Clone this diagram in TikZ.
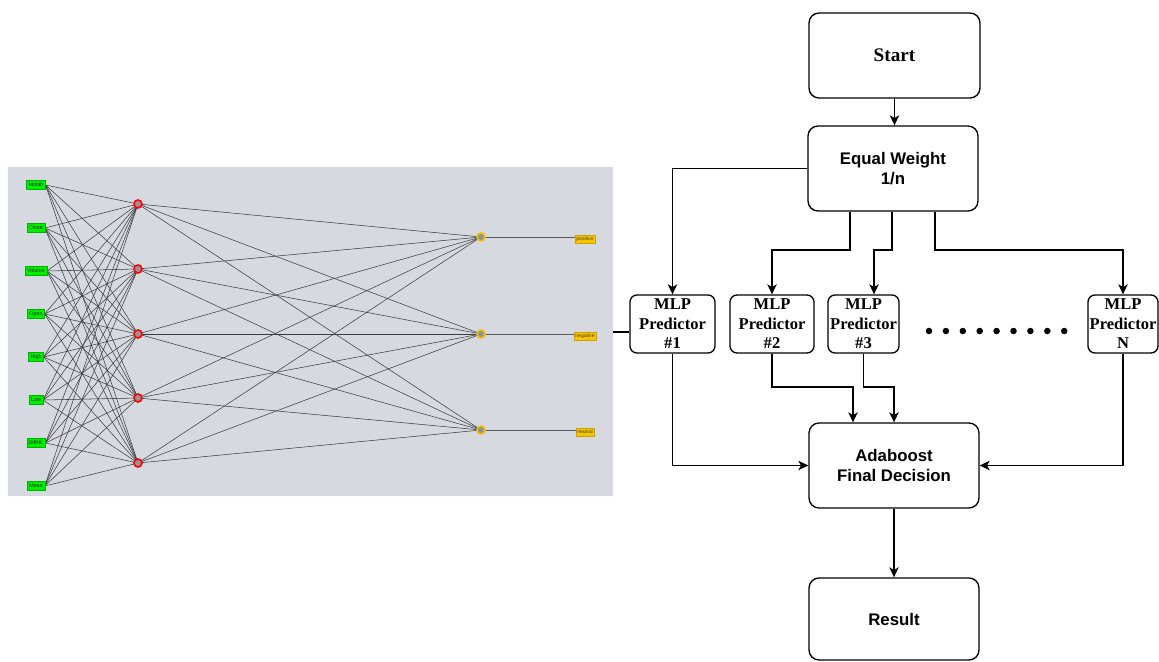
\documentclass[tikz,border=0pt]{standalone}
\usepackage{fontspec}
\setmainfont{Liberation Serif}
\setsansfont{Liberation Sans}
\usetikzlibrary{arrows.meta,calc}
\newdimen\pxu \pxu=0.75pt
\pgfdeclarelayer{panellayer}
\pgfdeclarelayer{linelayer}
\pgfsetlayers{panellayer,linelayer,main}
\definecolor{panelbg}{HTML}{D6D9E0}
\definecolor{ingreen}{HTML}{00EE00}
\definecolor{gold}{HTML}{F7C600}
\definecolor{ringgold}{HTML}{F2BE00}
\definecolor{netline}{HTML}{3C3C3C}
\begin{document}
\begin{tikzpicture}[x=0.75pt,y=-0.75pt,
  inbox/.style={rectangle,fill=ingreen,draw=green!70!black,line width=0.2pt,inner xsep=2\pxu,inner ysep=0pt,minimum height=9\pxu,font=\sffamily\fontsize{4}{4.2}\selectfont,text=black!85},
  outbox/.style={rectangle,fill=gold,draw=ringgold!85!black,line width=0.2pt,inner xsep=1.5\pxu,inner ysep=0pt,minimum height=8\pxu,font=\sffamily\fontsize{3.8}{4}\selectfont,text=black!75},
  hid/.style={circle,fill=gray!85,draw=red,line width=1.2pt,inner sep=0pt,minimum size=8\pxu},
  outn/.style={circle,fill=gray!85,draw=ringgold,line width=1.2pt,inner sep=0pt,minimum size=8\pxu},
  wire/.style={draw=netline,line width=0.4pt},
  owire/.style={draw=gray!70!black,line width=0.7pt},
  bigbox/.style={rectangle,rounded corners=10\pxu,draw=black,line width=1pt,inner sep=0pt,minimum width=170\pxu,minimum height=85\pxu,align=center},
  mlpbox/.style={rectangle,rounded corners=7\pxu,draw=black,line width=1pt,inner sep=0pt,minimum height=58\pxu,align=center,font=\rmfamily\bfseries\fontsize{12.4}{14.6}\selectfont},
  sanslbl/.style={font=\sffamily\bfseries\fontsize{12.6}{14.5}\selectfont},
  flow/.style={draw=black,line width=1pt},
  arr/.style={flow,-{Stealth[length=7.5pt,width=7pt,inset=2pt]}},
  dotn/.style={circle,fill=black,inner sep=0pt,minimum size=6.5\pxu}
]
\useasboundingbox (0,0) rectangle (1159,661);

% ---------- neural network panel ----------
\begin{pgfonlayer}{panellayer}
\node[rectangle,fill=panelbg,draw=white!90!panelbg,line width=0.6pt,minimum width=606\pxu,minimum height=330\pxu,inner sep=0pt] (panel) at (310,331) {};
\end{pgfonlayer}

\node[inbox] (i1) at (36,185) {Month};
\node[inbox] (i2) at (36,228) {Close};
\node[inbox] (i3) at (36,271) {Volume};
\node[inbox] (i4) at (36,314) {Open};
\node[inbox] (i5) at (36,357) {High};
\node[inbox] (i6) at (36,400) {Low};
\node[inbox] (i7) at (36,443) {DiffHL};
\node[inbox] (i8) at (36,486) {Mean};

\node[hid] (h1) at (138,204) {};
\node[hid] (h2) at (138,269) {};
\node[hid] (h3) at (138,334) {};
\node[hid] (h4) at (138,398) {};
\node[hid] (h5) at (138,463) {};

\node[outn] (o1) at (481,237) {};
\node[outn] (o2) at (481,334) {};
\node[outn] (o3) at (481,430) {};

\node[outbox] (l1) at (585,239) {positive};
\node[outbox] (l2) at (585,336) {negative};
\node[outbox] (l3) at (585,432) {neutral};

\begin{pgfonlayer}{linelayer}
\foreach \a in {1,...,8}{
  \foreach \b in {1,...,5}{
    \draw[wire] (i\a.east) -- (h\b.center);
  }
}
\foreach \b in {1,...,5}{
  \foreach \c in {1,2,3}{
    \draw[wire] (h\b.center) -- (o\c.center);
  }
}
\foreach \c in {1,2,3}{
  \draw[owire] (o\c.center) -- (o\c -| l\c.west);
}
\end{pgfonlayer}

% ---------- flowchart ----------
\node[bigbox,font=\rmfamily\bfseries\fontsize{14.4}{16}\selectfont,minimum width=171\pxu] (start) at (894.5,55.5) {Start};
\node[bigbox,sanslbl] (ew) at (893,168.5) {Equal Weight\\1/n};
\node[mlpbox,minimum width=85\pxu] (m1) at (672.5,324) {MLP\\Predictor\\\#1};
\node[mlpbox,minimum width=84\pxu] (m2) at (772,324) {MLP\\Predictor\\\#2};
\node[mlpbox,minimum width=71\pxu] (m3) at (863.5,324) {MLP\\Predictor\\\#3};
\node[mlpbox,minimum width=70\pxu] (mN) at (1123,324) {MLP\\Predictor\\N};
\node[bigbox,sanslbl] (ada) at (894,465.5) {Adaboost\\Final Decision};
\node[bigbox,sanslbl,minimum height=82\pxu] (res) at (894,619) {Result};

\foreach \k in {0,...,8}{
  \node[dotn] (dot\k) at ({929+\k*16.9},331) {};
}

\coordinate (b1) at (850,250);
\coordinate (b2) at (892,250);
\coordinate (b3) at (935,250);
\coordinate (t3) at (874,250);
\coordinate (c1) at (853,387);
\coordinate (jn) at (620,332);

\draw[arr] (start.south) -- (start.south |- ew.north);
\draw[arr] (ew.west) -| (m1.north);
\draw[arr] (ew.south -| b1) -- (b1) -| (m2.north);
\draw[arr] (ew.south -| b2) -- (b2) -- (t3) -- (t3 |- m3.north);
\draw[arr] (ew.south -| b3) -- (b3) -| (mN.north);
\draw[arr] (m2.south) |- (c1) -- (c1 |- ada.north);
\draw[arr] (m3.south) |- (ada.north |- c1) -- (ada.north);
\draw[arr] (m1.south) |- (ada.west);
\draw[arr] (mN.south) |- (ada.east);
\draw[arr] (ada.south) -- (res.north);
\draw[flow] (panel.east |- jn) -- (m1.west |- jn);
\end{tikzpicture}
\end{document}
